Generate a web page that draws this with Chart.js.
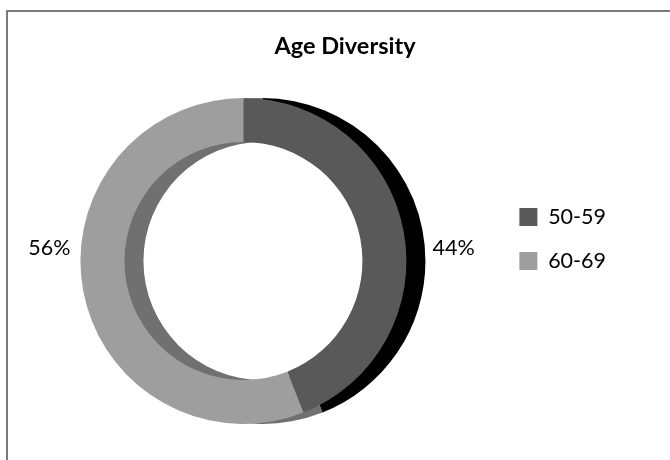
<!DOCTYPE html>
<html>
<head>
<meta charset="utf-8">
<script src="https://cdn.jsdelivr.net/npm/chart.js@4"></script>
<style>
  html, body { margin: 0; padding: 0; background: #fff; overflow: hidden; }
  .card { position: absolute; left: 6px; top: 10px; width: 720px; height: 520px; border: 2px solid #7a7a7a; }
  /* the plot starts flush with the page edge, so the canvas runs a little past it */
  .wrap { position: absolute; left: -10px; top: 0; width: 680px; height: 460px; }
</style>
</head>
<body>
<div class="card"></div>
<div class="wrap"><canvas id="ageChart"></canvas></div>
<script>
const ageGroups = ['50-59', '60-69'];
const shares = [44, 56];
const sliceColors = ['#595959', '#9e9e9e'];
const shadowColors = ['#000000', '#707070'];

Chart.defaults.font.family = 'Lato, "Open Sans", sans-serif';
Chart.defaults.color = '#000';

function arcGeometry(arc) {
  return arc.getProps(['x', 'y', 'startAngle', 'endAngle', 'innerRadius', 'outerRadius'], true);
}

// each slice painted again underneath, pushed to the right, as a flat drop shadow
const ringShadow = {
  id: 'ringShadow',
  beforeDatasetsDraw(chart, args, opts) {
    const ctx = chart.ctx;
    chart.getDatasetMeta(0).data.forEach((arc, i) => {
      const a = arcGeometry(arc);
      ctx.save();
      ctx.fillStyle = shadowColors[i];
      ctx.beginPath();
      ctx.arc(a.x + opts.dx, a.y, a.outerRadius, a.startAngle, a.endAngle);
      ctx.arc(a.x + opts.dx, a.y, a.innerRadius, a.endAngle, a.startAngle, true);
      ctx.closePath();
      ctx.fill();
      ctx.restore();
    });
  }
};

// percentage next to each slice, outside the ring
const sliceLabels = {
  id: 'sliceLabels',
  afterDatasetsDraw(chart, args, opts) {
    const ctx = chart.ctx;
    const total = shares.reduce((s, v) => s + v, 0);
    chart.getDatasetMeta(0).data.forEach((arc, i) => {
      const a = arcGeometry(arc);
      const onRight = Math.cos((a.startAngle + a.endAngle) / 2) > 0;
      ctx.save();
      ctx.font = opts.size + 'px ' + Chart.defaults.font.family;
      ctx.fillStyle = '#000';
      ctx.textBaseline = 'middle';
      ctx.textAlign = onRight ? 'left' : 'right';
      const x = onRight ? a.x + a.outerRadius + opts.gapRight : a.x - a.outerRadius - opts.gapLeft;
      ctx.fillText(Math.round(shares[i] / total * 100) + '%', x, a.y - opts.rise);
      ctx.restore();
    });
  }
};

// centre the title on the whole card instead of the plot + legend block
const cardTitle = {
  id: 'cardTitle',
  afterLayout(chart) {
    chart.titleBlock.left = 30;
    chart.titleBlock.right = chart.width;
  }
};

new Chart(document.getElementById('ageChart'), {
  type: 'doughnut',
  data: {
    labels: ageGroups,
    datasets: [{
      data: shares,
      backgroundColor: sliceColors,
      borderWidth: 0,
      hoverOffset: 0
    }]
  },
  options: {
    responsive: true,
    maintainAspectRatio: false,
    animation: false,
    radius: 163,
    cutout: '73%',
    layout: { padding: { top: 18, right: 54, bottom: 0, left: 0 } },
    plugins: {
      title: {
        display: true,
        text: 'Age Diversity',
        font: { size: 23.5, weight: 'bold' },
        padding: { top: 13.9, bottom: 1.9 }
      },
      legend: {
        position: 'right',
        labels: {
          boxWidth: 18,
          boxHeight: 18,
          padding: 22.5,
          font: { size: 21.5 }
        }
      },
      tooltip: { enabled: false },
      ringShadow: { dx: 19 },
      sliceLabels: { size: 21.5, gapRight: 26, gapLeft: 10, rise: 13 }
    }
  },
  plugins: [ringShadow, sliceLabels, cardTitle]
});
</script>
</body>
</html>
